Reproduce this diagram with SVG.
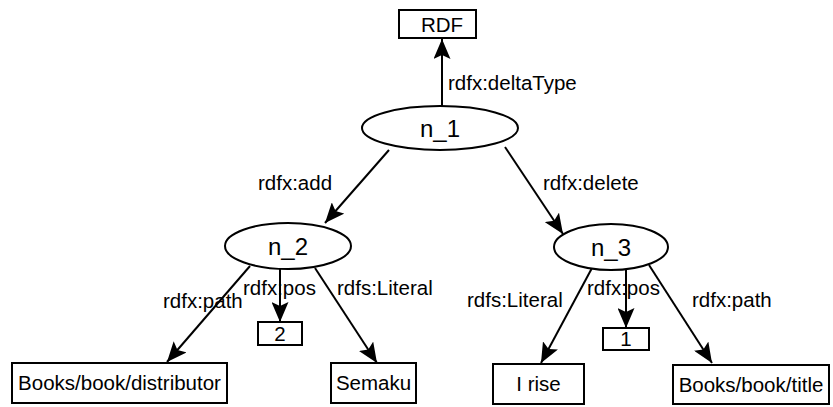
<svg xmlns="http://www.w3.org/2000/svg" width="833" height="407" viewBox="0 0 833 407">
  <style>
    .shape { fill: #ffffff; stroke: #000000; stroke-width: 2; }
    .edge { fill: none; stroke: #000000; stroke-width: 2; marker-end: url(#arrow); }
    .label { font-family: "Liberation Sans", Arial, sans-serif; font-size: 20.5px; fill: #000000; }
    .node-text { font-family: "Liberation Sans", Arial, sans-serif; font-size: 24px; fill: #000000; text-anchor: middle; }
    .box-text { font-family: "Liberation Sans", Arial, sans-serif; font-size: 20.5px; fill: #000000; text-anchor: middle; }
  </style>
  <defs>
    <marker id="arrow" markerUnits="userSpaceOnUse" markerWidth="21" markerHeight="17" refX="20" refY="8.5" orient="auto">
      <path d="M0,0 L20,8.5 L0,17 L4,8.5 Z" fill="#000000"/>
    </marker>
  </defs>
  <rect width="833" height="407" fill="#ffffff"/>

  <!-- connectors -->
  <g id="edges">
    <line class="edge" x1="442" y1="106" x2="442" y2="39"/>
    <line class="edge" x1="389" y1="150" x2="325" y2="223"/>
    <line class="edge" x1="505" y1="147" x2="563" y2="234"/>
    <line class="edge" x1="250" y1="266" x2="167" y2="362"/>
    <line class="edge" x1="280" y1="269" x2="280" y2="322"/>
    <line class="edge" x1="315" y1="268" x2="377" y2="363"/>
    <line class="edge" x1="592" y1="268" x2="541" y2="363"/>
    <line class="edge" x1="626" y1="270" x2="626" y2="328"/>
    <line class="edge" x1="649" y1="265" x2="712" y2="363"/>
  </g>

  <!-- connector labels -->
  <g id="edge-labels">
    <text class="label" x="448" y="90">rdfx:deltaType</text>
    <text class="label" x="258" y="190">rdfx:add</text>
    <text class="label" x="543" y="190">rdfx:delete</text>
    <text class="label" x="163" y="308">rdfx:path</text>
    <text class="label" x="243" y="295">rdfx:pos</text>
    <text class="label" x="337" y="295">rdfs:Literal</text>
    <text class="label" x="467" y="307">rdfs:Literal</text>
    <text class="label" x="587" y="295">rdfx:pos</text>
    <text class="label" x="692" y="307">rdfx:path</text>
  </g>

  <g id="node-rdf">
    <rect class="shape" x="399" y="10" width="77" height="28"/>
    <text class="box-text" x="442" y="32">RDF</text>
  </g>

  <g id="node-n1">
    <ellipse class="shape" cx="440" cy="128" rx="78" ry="22"/>
    <text class="node-text" x="440" y="137">n_1</text>
  </g>

  <g id="node-n2">
    <ellipse class="shape" cx="288" cy="246" rx="63" ry="23"/>
    <text class="node-text" x="288" y="255">n_2</text>
  </g>

  <g id="node-n3">
    <ellipse class="shape" cx="611" cy="247" rx="57" ry="23"/>
    <text class="node-text" x="611" y="256">n_3</text>
  </g>

  <g id="node-pos2">
    <rect class="shape" x="258" y="322" width="44" height="23"/>
    <text class="box-text" x="280" y="341">2</text>
  </g>

  <g id="node-pos1">
    <rect class="shape" x="603" y="328" width="46" height="22"/>
    <text class="box-text" x="626" y="346">1</text>
  </g>

  <g id="node-distributor">
    <rect class="shape" x="12" y="363" width="215" height="40"/>
    <text class="box-text" x="119.5" y="390">Books/book/distributor</text>
  </g>

  <g id="node-semaku">
    <rect class="shape" x="331" y="363" width="85" height="40"/>
    <text class="box-text" x="373.5" y="390">Semaku</text>
  </g>

  <g id="node-irise">
    <rect class="shape" x="493" y="364" width="91" height="40"/>
    <text class="box-text" x="538.5" y="391">I rise</text>
  </g>

  <g id="node-title">
    <rect class="shape" x="673" y="365" width="156" height="39"/>
    <text class="box-text" x="751" y="392">Books/book/title</text>
  </g>
</svg>
